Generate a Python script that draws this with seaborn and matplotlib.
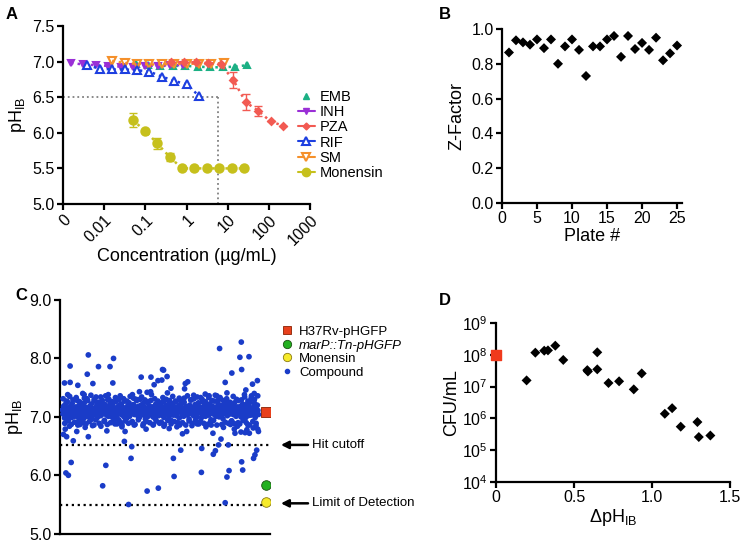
import numpy as np
import seaborn as sns
import matplotlib.pyplot as plt
from matplotlib.lines import Line2D

# ---- panel A: pH_IB vs drug concentration (ug/mL) ----
emb_conc = [30, 15, 7.5, 3.75, 1.875, 0.94, 0.47, 0.23, 0.117, 0.059]
emb_ph = [6.95, 6.93, 6.92, 6.92, 6.93, 6.94, 6.94, 6.94, 6.95, 6.96]
inh_conc = [0.8, 0.4, 0.2, 0.1, 0.05, 0.025, 0.0125, 0.00625, 0.003125, 0.00156]
inh_ph = [6.95, 6.95, 6.94, 6.94, 6.93, 6.93, 6.94, 6.95, 6.96, 6.98]
pza_conc = [220, 110, 55, 27.5, 13.75, 6.9, 3.4, 1.7, 0.86, 0.43]
pza_ph = [6.10, 6.16, 6.31, 6.43, 6.74, 6.96, 6.98, 6.99, 6.99, 6.99]
pza_err = [0, 0, 0.07, 0.11, 0.11, 0, 0, 0, 0, 0]
rif_conc = [2, 1, 0.5, 0.25, 0.125, 0.0625, 0.03125, 0.0156, 0.0078, 0.0039]
rif_ph = [6.52, 6.68, 6.73, 6.79, 6.86, 6.88, 6.89, 6.89, 6.90, 6.95]
sm_conc = [8, 4, 2, 1, 0.5, 0.25, 0.125, 0.0625, 0.03125, 0.0156]
sm_ph = [6.98, 6.97, 6.97, 6.97, 6.97, 6.96, 6.96, 6.97, 6.98, 7.01]
mon_conc = [25, 12.5, 6.25, 3.125, 1.56, 0.78, 0.39, 0.195, 0.098, 0.049]
mon_ph = [5.50, 5.50, 5.50, 5.50, 5.50, 5.50, 5.66, 5.85, 6.03, 6.18]
mon_err = [0, 0, 0, 0, 0, 0, 0.06, 0.08, 0, 0.10]
cutoff_ph = 6.5
cutoff_conc = 5.7

# ---- panel B: Z-factor per plate ----
plates = list(range(1, 26))
z_factor = [0.865, 0.935, 0.923, 0.91, 0.94, 0.89, 0.94, 0.80, 0.90, 0.94,
            0.88, 0.73, 0.90, 0.90, 0.94, 0.96, 0.84, 0.96, 0.885, 0.92,
            0.88, 0.95, 0.82, 0.86, 0.905]

# ---- panel C: screen ----
band_ph = [
    7.12, 7.05, 7.18, 7.09, 6.98, 7.21, 7.14, 7.02, 7.10, 7.26, 7.07, 6.95,
    7.16, 7.11, 7.03, 7.19, 7.08, 6.99, 7.23, 7.13, 7.06, 7.15, 7.01, 7.10,
    7.04, 7.17, 7.09, 7.28, 7.00, 7.12, 6.93, 7.20, 7.07, 7.14, 7.11, 7.02,
    7.19, 7.08, 7.13, 6.97, 7.24, 7.05, 7.10, 7.16, 7.01, 7.31, 7.09, 7.06,
    7.13, 7.00, 7.18, 7.11, 7.07, 7.22, 6.96, 7.14, 7.03, 7.10, 7.27, 7.08,
    7.15, 7.04, 7.12, 7.20, 6.99, 7.09, 7.17, 7.06, 7.25, 7.11, 7.02, 7.13,
    7.08, 7.19, 7.05, 7.14, 7.10, 6.94, 7.21, 7.07, 7.12, 7.03, 7.18, 7.29,
    7.01, 7.11, 7.16, 7.06, 7.23, 7.09, 7.00, 7.14, 7.19, 7.04, 7.12, 6.97,
    7.10, 7.26, 7.07, 7.13, 7.02, 7.17, 7.11, 6.95, 7.20, 7.08, 7.15, 7.05,
    7.22, 7.09, 7.03, 7.16, 7.12, 7.00, 7.27, 7.06, 7.14, 7.10, 6.98, 7.18,
    7.07, 7.13, 7.24, 7.01, 7.11, 7.19, 7.05, 7.15, 6.92, 7.09, 7.21, 7.12,
    7.04, 7.17, 7.10, 7.30, 7.06, 7.13, 7.02, 7.18, 7.09, 6.99, 7.14, 7.08,
    7.20, 7.11, 7.05, 7.15, 7.23, 7.03, 7.10, 7.16, 6.96, 7.12, 7.07, 7.25,
    7.09, 7.01, 7.14, 7.19, 7.06, 7.11, 7.28, 7.04, 7.13, 7.17, 7.00, 7.10,
    7.15, 7.08, 6.97, 7.22, 7.12, 7.05, 7.18, 7.09, 7.02, 7.14, 7.24, 7.07,
    7.11, 7.19, 7.03, 7.13, 7.08, 7.26, 6.99, 7.16, 7.10, 7.05, 7.20, 7.12,
    7.06, 7.14, 7.21, 7.00, 7.17, 7.09, 7.12, 6.94, 7.23, 7.07, 7.15, 7.03,
    7.18, 7.10, 7.05, 7.27, 7.11, 7.02, 7.16, 7.13, 7.08, 7.19, 6.98, 7.14,
    7.09, 7.22, 7.12, 7.04, 7.15, 7.10, 7.01, 7.25, 7.07, 7.13, 7.18, 7.06,
    7.13, 7.03, 7.17, 7.11, 6.96, 7.20, 7.08, 7.14, 7.29, 7.05, 7.10, 7.16,
    7.02, 7.15, 7.09, 7.21, 7.12, 7.06, 7.18, 7.00, 7.13, 7.24, 7.08, 7.11,
    7.17, 7.07, 7.14, 6.99, 7.10, 7.26, 7.04, 7.12, 7.19, 7.09, 7.01, 7.15,
    7.11, 7.20, 7.06, 7.13, 7.03, 7.16, 7.22, 7.08, 6.95, 7.14, 7.10, 7.18,
    7.05, 7.12, 7.27, 7.09, 7.15, 7.01, 7.11, 7.17, 7.07, 7.23, 7.13, 7.00,
    7.14, 7.08, 7.19, 7.03, 7.12, 7.10, 6.97, 7.21, 7.06, 7.16, 7.09, 7.25,
    7.10, 7.16, 7.02, 7.13, 7.20, 7.07, 7.14, 7.05, 7.18, 7.11, 6.93, 7.09,
    7.19, 7.04, 7.12, 7.24, 7.08, 7.15, 7.01, 7.10, 7.17, 7.06, 7.28, 7.13,
    7.07, 7.11, 7.18, 7.00, 7.14, 7.09, 7.22, 7.12, 7.04, 7.16, 7.10, 6.98,
    7.15, 7.21, 7.06, 7.13, 7.02, 7.19, 7.11, 7.08, 7.25, 7.03, 7.14, 7.09,
    7.12, 7.05, 7.17, 7.10, 7.23, 6.99, 7.13, 7.16, 7.07, 7.20, 7.11, 7.04,
]
band_edge_ph = [
    7.31, 6.89, 7.27, 6.93, 7.35, 6.87, 7.29, 6.91, 7.33, 6.86, 7.26, 6.94,
    6.90, 7.32, 6.88, 7.28, 6.92, 7.37, 6.85, 7.30, 6.95, 7.25, 6.89, 7.34,
    7.28, 6.92, 7.36, 6.87, 7.30, 6.90, 7.26, 6.94, 7.33, 6.88, 7.29, 6.91,
    6.86, 7.31, 6.93, 7.27, 6.89, 7.35, 6.91, 7.32, 6.87, 7.28, 6.95, 7.30,
    7.34, 6.88, 7.29, 6.92, 7.26, 6.90, 7.38, 6.86, 7.31, 6.93, 7.27, 6.89,
    6.91, 7.33, 6.87, 7.30, 6.94, 7.28, 6.88, 7.35, 6.92, 7.26, 6.90, 7.32,
    7.27, 6.90, 7.32, 6.86, 7.36, 6.93, 7.29, 6.89, 7.31, 6.95, 7.34, 6.88,
    6.92, 7.30, 6.89, 7.26, 6.87, 7.33, 6.91, 7.28, 6.94, 7.37, 6.86, 7.29,
    7.33, 6.87, 7.28, 6.91, 7.31, 6.89, 7.25, 6.93, 7.35, 6.88, 7.30, 6.90,
    6.88, 7.29, 6.94, 7.34, 6.90, 7.27, 6.86, 7.32, 6.92, 7.30, 6.89, 7.36,
]
band_first_well = 0
band_last_well = 560

outlier_well = [74, 22, 103, 136, 146, 71, 6, 22, 44, 87, 144, 131, 15, 62,
                8, 41, 127, 179, 12, 31, 74, 177, 3, 198, 196, 25, 124, 10, 17,
                115, 242, 274, 343, 430, 453, 493, 522, 560, 338, 398, 446, 474,
                431, 437, 317, 555, 550, 546, 512, 319, 397, 476, 515, 470, 189,
                465, 286, 289, 225, 253, 273, 284, 299, 351, 358, 349, 310, 242,
                252, 220, 262, 408, 441, 239, 327, 355, 511, 449, 507, 533, 512,
                484, 557, 465, 543, 524, 548, 419, 470, 491, 527, 558, 534, 510,
                553, 58, 165, 96, 200, 300, 375, 395, 520, 540, 20, 50, 65, 90,
                110, 150, 170, 205, 230, 260, 290, 305, 335, 370, 385, 410, 425,
                460, 480, 500, 530, 545]
outlier_ph = [8.06, 7.87, 7.86, 7.86, 8.00, 7.73, 7.58, 7.59, 7.54, 7.57, 7.58,
              7.38, 7.38, 7.38, 6.79, 6.75, 6.76, 6.75, 6.66, 6.59, 6.66, 6.58,
              6.70, 6.49, 6.29, 6.22, 6.17, 6.04, 6.00, 5.82, 5.73, 5.78, 6.71,
              6.72, 6.62, 6.72, 6.73, 6.75, 6.43, 6.46, 6.52, 6.52, 6.36, 6.42,
              6.29, 6.43, 6.35, 6.29, 6.23, 5.98, 6.05, 6.08, 6.09, 5.97, 5.50,
              5.53, 7.81, 7.80, 7.68, 7.68, 7.62, 7.63, 7.69, 7.57, 7.60, 7.48,
              7.49, 7.42, 7.43, 7.43, 7.55, 7.39, 7.36, 6.79, 6.83, 6.75, 8.28,
              8.17, 8.02, 8.03, 7.81, 7.75, 7.62, 7.59, 7.56, 7.46, 7.40, 7.36,
              7.41, 6.79, 6.78, 6.79, 6.72, 6.74, 6.85, 7.40, 7.36, 7.34, 7.38,
              7.41, 7.37, 7.33, 7.38, 7.36, 6.84, 6.87, 6.82, 6.86, 6.84, 6.88,
              6.83, 6.86, 6.85, 6.87, 6.84, 6.80, 6.86, 6.85, 6.88, 6.83, 6.86,
              6.82, 6.87, 6.84, 6.86, 6.81]

control_well = 581
h37rv_ph = 7.09
marp_ph = 5.83
monensin_ph = 5.55
hit_cutoff = 6.52
limit_detection = 5.49

# ---- panel D: CFU vs delta pH ----
dph = [0.196, 0.252, 0.309, 0.333, 0.38, 0.431, 0.585, 0.589, 0.649, 0.649,
       0.721, 0.789, 0.883, 0.934, 1.082, 1.129, 1.184, 1.291, 1.30, 1.374]
cfu = [1.57e7, 1.17e8, 1.35e8, 1.38e8, 1.94e8, 6.9e7, 3.3e7, 3.0e7, 1.2e8,
       3.5e7, 1.3e7, 1.47e7, 8.2e6, 2.6e7, 1.4e6, 2.1e6, 5.5e5, 7.7e5, 2.6e5,
       2.9e5]
ctrl_dph = [0]
ctrl_cfu = [1.0e8]

# colours
c_emb = '#1bb084'
c_inh = '#9a2fd6'
c_pza = '#f25a52'
c_rif = '#1d3fe0'
c_sm = '#f5902a'
c_mon = '#c6c01c'
c_cmp = '#1a3cc8'

sns.set_theme(style='ticks')
plt.rcParams['font.family'] = ['Liberation Sans', 'DejaVu Sans']
plt.rcParams.update({
    'axes.linewidth': 1.6, 'axes.edgecolor': 'black',
    'xtick.major.width': 1.6, 'ytick.major.width': 1.6,
    'xtick.major.size': 4, 'ytick.major.size': 4,
    'xtick.labelsize': 11.5, 'ytick.labelsize': 11.5,
    'axes.labelsize': 13, 'xtick.color': 'black', 'ytick.color': 'black',
    'axes.labelcolor': 'black', 'text.color': 'black',
    'xtick.major.pad': 2, 'ytick.major.pad': 2,
})

fig = plt.figure(figsize=(7.44, 5.43), dpi=100)
axA = fig.add_axes([0.0847, 0.6243, 0.332, 0.3278])
axB = fig.add_axes([0.6747, 0.6262, 0.2419, 0.3204])
axC = fig.add_axes([0.0806, 0.0171, 0.2823, 0.4304])
axD = fig.add_axes([0.6667, 0.1123, 0.3145, 0.2928])

ph_label = r'pH$_{\mathregular{IB}}$'

# ---------------- A ----------------
axA.plot([0.001, cutoff_conc], [cutoff_ph, cutoff_ph], ls=':', color='#808080', lw=1.3)
axA.plot([cutoff_conc, cutoff_conc], [5.0, cutoff_ph], ls=':', color='#808080', lw=1.3)

series = [
    (emb_conc, emb_ph, None, c_emb, '^', c_emb, 5),
    (inh_conc, inh_ph, None, c_inh, 'v', c_inh, 5),
    (sm_conc, sm_ph, None, c_sm, 'v', 'none', 6),
    (rif_conc, rif_ph, None, c_rif, '^', 'white', 6),
    (pza_conc, pza_ph, pza_err, c_pza, 'D', c_pza, 3.5),
    (mon_conc, mon_ph, mon_err, c_mon, 'o', c_mon, 6),
]
for conc, ph, err, col, mk, fc, ms in series:
    if err is not None:
        axA.errorbar(conc, ph, yerr=err, fmt='none', ecolor=col, elinewidth=1,
                     capsize=3, capthick=1)
    sns.lineplot(x=conc, y=ph, ax=axA, color=col, linestyle=':', lw=1.8,
                 marker=mk, markersize=ms, markerfacecolor=fc,
                 markeredgecolor=col, markeredgewidth=1.5)

axA.set_xscale('log')
axA.set_xlim(0.001, 1000)
axA.set_ylim(5.0, 7.5)
axA.set_xticks([1e-3, 1e-2, 1e-1, 1, 10, 100, 1000])
axA.set_xticklabels(['0', '0.01', '0.1', '1', '10', '100', '1000'],
                    rotation=45, ha='right', rotation_mode='anchor')
axA.minorticks_off()
axA.set_yticks([5.0, 5.5, 6.0, 6.5, 7.0, 7.5])
axA.set_yticklabels(['5.0', '5.5', '6.0', '6.5', '7.0', '7.5'])
axA.set_xlabel('Concentration (µg/mL)', labelpad=0)
axA.set_ylabel(ph_label, labelpad=3)

handlesA = [
    Line2D([], [], ls='none', marker='^', color=c_emb, ms=5),
    Line2D([], [], ls='-', marker='v', color=c_inh, ms=5, lw=1.5),
    Line2D([], [], ls='-', marker='D', color=c_pza, ms=3.5, lw=1.5),
    Line2D([], [], ls='-', marker='^', color=c_rif, mfc='white', mew=1.5, ms=6, lw=1.5),
    Line2D([], [], ls='-', marker='v', color=c_sm, mfc='white', mew=1.5, ms=6, lw=1.5),
    Line2D([], [], ls='-', marker='o', color=c_mon, ms=6, lw=1.5),
]
axA.legend(handlesA, ['EMB', 'INH', 'PZA', 'RIF', 'SM', 'Monensin'],
           loc='upper left', bbox_to_anchor=(0.95, 0.64), frameon=False,
           fontsize=10.5, borderaxespad=0, borderpad=0, handlelength=1.2,
           handletextpad=0.3, labelspacing=0.08)

# ---------------- B ----------------
sns.scatterplot(x=plates, y=z_factor, ax=axB, marker='D', s=26, color='black',
                edgecolor='none')
axB.set_xlim(0, 25.7)
axB.set_ylim(0, 1.0)
axB.set_xticks([0, 5, 10, 15, 20, 25])
axB.set_yticks([0.0, 0.2, 0.4, 0.6, 0.8, 1.0])
axB.set_yticklabels(['0.0', '0.2', '0.4', '0.6', '0.8', '1.0'])
axB.set_xlabel('Plate #', labelpad=1)
axB.set_ylabel('Z-Factor')

# ---------------- C ----------------
band_well = np.linspace(band_first_well, band_last_well, len(band_ph))
edge_well = np.linspace(band_first_well + 2, band_last_well - 2, len(band_edge_ph))
for wells, vals in [(edge_well, band_edge_ph), (band_well, band_ph),
                    (outlier_well, outlier_ph)]:
    sns.scatterplot(x=wells, y=vals, ax=axC, s=17, color=c_cmp,
                    edgecolor='none', zorder=3)
axC.plot([-7, 593], [hit_cutoff, hit_cutoff], ls=':', color='black', lw=1.6)
axC.plot([-7, 593], [limit_detection, limit_detection], ls=':', color='black', lw=1.6)
axC.scatter([control_well], [h37rv_ph], marker='s', s=48, color='#e8401c',
            edgecolor='#8a2000', linewidth=0.6, zorder=4)
axC.scatter([control_well], [marp_ph], marker='o', s=48, color='#23b020',
            edgecolor='#1a5010', linewidth=0.6, zorder=4)
axC.scatter([control_well], [monensin_ph], marker='o', s=48, color='#f6ea2a',
            edgecolor='#8a7a10', linewidth=0.6, zorder=4)
axC.set_xlim(-7, 593)
axC.set_ylim(5.0, 9.0)
axC.set_xticks([])
axC.set_yticks([5.0, 6.0, 7.0, 8.0, 9.0])
axC.set_yticklabels(['5.0', '6.0', '7.0', '8.0', '9.0'])
axC.set_ylabel(ph_label, labelpad=3)

trans = axC.get_yaxis_transform()
for yv, txt in [(hit_cutoff, 'Hit cutoff'), (limit_detection + 0.03, 'Limit of Detection')]:
    axC.annotate('', xy=(1.052, yv), xycoords=trans, xytext=(1.181, yv),
                 textcoords=trans, annotation_clip=False,
                 arrowprops=dict(arrowstyle='-|>', color='black', lw=1.8,
                                 mutation_scale=11, shrinkA=0, shrinkB=0))
    axC.text(1.2, yv, txt, transform=trans, va='center', ha='left', fontsize=9.5,
             clip_on=False)

handlesC = [
    Line2D([], [], ls='none', marker='s', color='#e8401c', mec='#8a2000', mew=0.6, ms=6),
    Line2D([], [], ls='none', marker='o', color='#23b020', mec='#1a5010', mew=0.6, ms=6),
    Line2D([], [], ls='none', marker='o', color='#f6ea2a', mec='#8a7a10', mew=0.6, ms=6),
    Line2D([], [], ls='none', marker='o', color=c_cmp, ms=3),
]
legC = axC.legend(handlesC, ['H37Rv-pHGFP', 'marP::Tn-pHGFP', 'Monensin', 'Compound'],
                  loc='upper left', bbox_to_anchor=(1.05, 0.89), frameon=False,
                  fontsize=9.5, borderaxespad=0, borderpad=0, handlelength=1.0,
                  handletextpad=0.4, labelspacing=0.1)
legC.get_texts()[1].set_style('italic')

# ---------------- D ----------------
sns.scatterplot(x=dph, y=cfu, ax=axD, marker='D', s=26, color='black',
                edgecolor='none')
axD.scatter(ctrl_dph, ctrl_cfu, marker='s', s=44, color='#f03a1c', zorder=4,
            clip_on=False)
axD.set_yscale('log')
axD.set_ylim(1e4, 1e9)
axD.set_xlim(0, 1.5)
axD.set_yticks([1e4, 1e5, 1e6, 1e7, 1e8, 1e9])
axD.set_yticklabels([r'$\mathregular{10^{%d}}$' % k for k in range(4, 10)])
axD.minorticks_off()
axD.set_xticks([0, 0.5, 1.0, 1.5])
axD.set_xticklabels(['0', '0.5', '1.0', '1.5'])
axD.set_xlabel(r'ΔpH$_{\mathregular{IB}}$', labelpad=1)
axD.set_ylabel('CFU/mL', labelpad=1)

for ax in (axA, axB, axC, axD):
    sns.despine(ax=ax)

for x, y, s in [(0.007, 0.987, 'A'), (0.590, 0.987, 'B'),
                (0.020, 0.470, 'C'), (0.590, 0.460, 'D')]:
    fig.text(x, y, s, fontsize=12, fontweight='bold', va='top', ha='left')

fig.savefig('out.png', dpi=100)
